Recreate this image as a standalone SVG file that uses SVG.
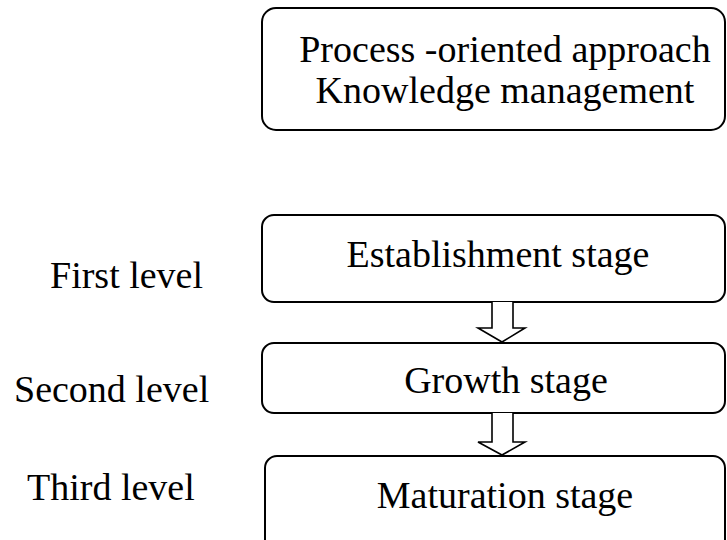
<svg xmlns="http://www.w3.org/2000/svg" width="727" height="540" viewBox="0 0 727 540">
<style>
.box{fill:#fff;stroke:#000;stroke-width:2}
.arrow{fill:#fff;stroke:#000;stroke-width:1.6;stroke-linejoin:miter}
text{font-family:"Liberation Serif","Times New Roman",serif;font-size:38px;fill:#000}
.c{text-anchor:middle}
</style>
<rect width="727" height="540" fill="#fff"/>
<g id="top">
<rect class="box" x="262" y="8" width="463" height="122" rx="14"/>
<text class="c" x="505" y="62">Process -oriented approach</text>
<text class="c" x="505" y="103">Knowledge management</text>
</g>
<g id="labels">
<text x="50" y="288">First level</text>
<text x="14" y="402">Second level</text>
<text x="27" y="500">Third level</text>
</g>
<g id="establishment">
<rect class="box" x="262" y="215" width="463" height="87" rx="12"/>
<text class="c" x="498" y="267">Establishment stage</text>
</g>
<g id="growth">
<rect class="box" x="262" y="343" width="463" height="70" rx="12"/>
<text class="c" x="506" y="393">Growth stage</text>
</g>
<g id="maturation">
<rect class="box" x="265" y="456" width="460" height="100" rx="12"/>
<text class="c" x="505" y="508">Maturation stage</text>
</g>
<g id="connectors">
<path class="arrow" d="M492,302 V328 H478 L502,342 L525,328 H513 V302"/>
<path class="arrow" d="M492,413 V442 H478 L502,455 L525,442 H513 V413"/>
</g>
</svg>
